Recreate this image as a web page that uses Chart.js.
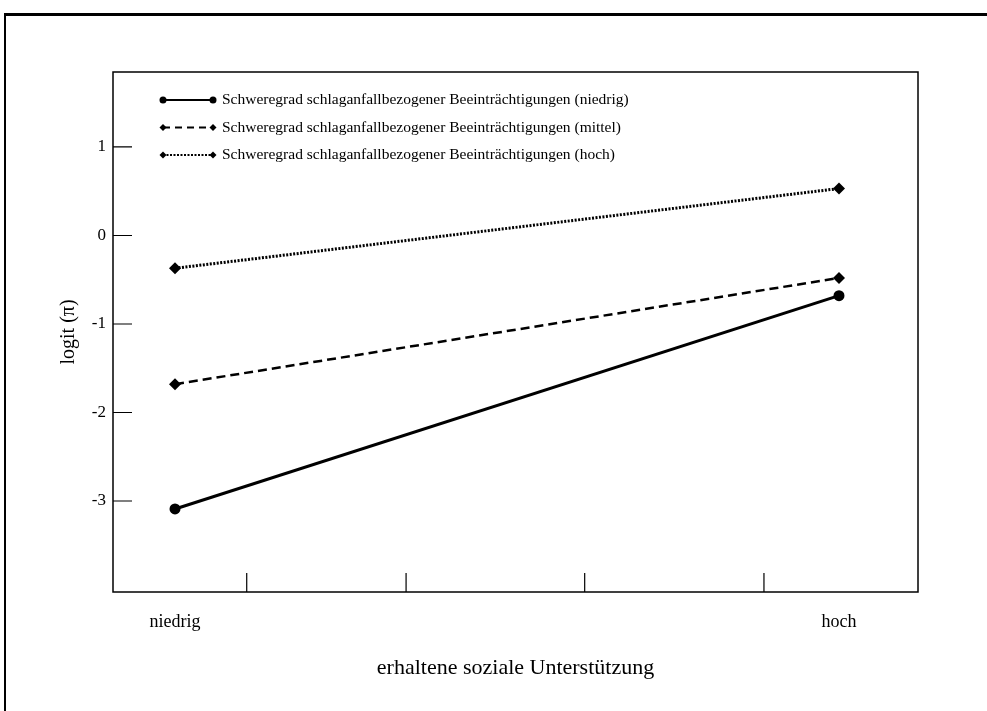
<!DOCTYPE html>
<html>
<head>
<meta charset="utf-8">
<script src="https://cdn.jsdelivr.net/npm/chart.js"></script>
<style>
  html, body { margin: 0; padding: 0; background: #fff; overflow: hidden; }
  #wrap { position: relative; width: 987px; height: 711px; }
  #frame { position: absolute; left: 4px; top: 13px; width: 1100px; height: 800px;
           border-top: 3px solid #000; border-left: 2px solid #000; }
  canvas { position: absolute; left: 0; top: 0; }
</style>
</head>
<body>
<div id="wrap">
  <div id="frame"></div>
  <canvas id="logitChart" width="987" height="711"></canvas>
</div>
<script>
// Daten
const categories = ['niedrig', 'hoch'];
const xPositions = [0, 1];
const seriesLabels = [
    'Schweregrad schlaganfallbezogener Beeinträchtigungen (niedrig)',
    'Schweregrad schlaganfallbezogener Beeinträchtigungen (mittel)',
    'Schweregrad schlaganfallbezogener Beeinträchtigungen (hoch)'
];
const niedrigValues = [-3.09, -0.68];
const mittelValues = [-1.68, -0.48];
const hochValues = [-0.37, 0.53];
const yTicks = [1, 0, -1, -2, -3];
const xTickMarks = [0.108, 0.348, 0.617, 0.887]; // Markierungen ohne Beschriftung

const FONT = '"Liberation Serif", "Times New Roman", serif';
Chart.defaults.color = '#000';
Chart.defaults.font.family = FONT;

function toPoints(values) {
    return values.map((v, i) => ({ x: xPositions[i], y: v }));
}

function drawMarker(ctx, style, x, y, r) {
    ctx.beginPath();
    if (style === 'circle') {
        ctx.arc(x, y, r, 0, Math.PI * 2);
    } else {
        ctx.moveTo(x, y - r);
        ctx.lineTo(x + r, y);
        ctx.lineTo(x, y + r);
        ctx.lineTo(x - r, y);
        ctx.closePath();
    }
    ctx.fill();
}

const legendDash = [[], [7, 5], [2, 1.5]];

// Rahmen, Innen-Ticks und Legende
const decorPlugin = {
    id: 'decor',
    afterDraw(chart) {
        const { ctx, chartArea: a, scales: { x, y } } = chart;
        ctx.save();
        ctx.strokeStyle = '#000';
        ctx.fillStyle = '#000';
        ctx.lineWidth = 1.5;
        ctx.strokeRect(a.left, a.top, a.right - a.left, a.bottom - a.top);

        ctx.lineWidth = 1.2;
        ctx.beginPath();
        yTicks.forEach(v => {
            const py = y.getPixelForValue(v);
            ctx.moveTo(a.left, py);
            ctx.lineTo(a.left + 19, py);
        });
        xTickMarks.forEach(v => {
            const px = x.getPixelForValue(v);
            ctx.moveTo(px, a.bottom);
            ctx.lineTo(px, a.bottom - 19);
        });
        ctx.stroke();

        ctx.font = '15.5px ' + FONT;
        ctx.textBaseline = 'middle';
        chart.data.datasets.forEach((ds, i) => {
            const yy = a.top + 28 + i * 27.5;
            const x0 = a.left + 50, x1 = a.left + 100;
            ctx.lineWidth = 2.2;
            ctx.setLineDash(legendDash[i]);
            ctx.beginPath();
            ctx.moveTo(x0, yy);
            ctx.lineTo(x1, yy);
            ctx.stroke();
            ctx.setLineDash([]);
            drawMarker(ctx, ds.pointStyle, x0, yy, 3.5);
            drawMarker(ctx, ds.pointStyle, x1, yy, 3.5);
            ctx.fillText(ds.label, x1 + 9, yy);
        });
        ctx.restore();
    }
};

const data = {
    datasets: [{
        label: seriesLabels[0],
        data: toPoints(niedrigValues),
        borderColor: '#000',
        backgroundColor: '#000',
        borderWidth: 3,
        pointStyle: 'circle',
        pointRadius: 5.5,
        pointBorderWidth: 0
    }, {
        label: seriesLabels[1],
        data: toPoints(mittelValues),
        borderColor: '#000',
        backgroundColor: '#000',
        borderWidth: 2.5,
        borderDash: [9, 5],
        pointStyle: 'rectRot',
        pointRadius: 6,
        pointBorderWidth: 0
    }, {
        label: seriesLabels[2],
        data: toPoints(hochValues),
        borderColor: '#000',
        backgroundColor: '#000',
        borderWidth: 3,
        borderDash: [2, 1.5],
        pointStyle: 'rectRot',
        pointRadius: 6,
        pointBorderWidth: 0
    }]
};

const config = {
    type: 'line',
    data: data,
    options: {
        responsive: false,
        animation: false,
        layout: { padding: { left: 0, top: 72, right: 69, bottom: 0 } },
        plugins: {
            legend: { display: false },
            tooltip: { enabled: false }
        },
        scales: {
            x: {
                type: 'linear',
                min: -0.0934,
                max: 1.119,
                afterBuildTicks: s => { s.ticks = xPositions.map(v => ({ value: v })); },
                afterFit: s => { s.height = 119; },
                grid: { display: false, drawTicks: false },
                border: { display: false },
                ticks: {
                    padding: 19,
                    font: { size: 18 },
                    callback: v => categories[xPositions.indexOf(v)]
                },
                title: {
                    display: true,
                    text: 'erhaltene soziale Unterstützung',
                    font: { size: 22 },
                    padding: { top: 0, bottom: 30 }
                }
            },
            y: {
                type: 'linear',
                min: -4.028,
                max: 1.847,
                afterBuildTicks: s => { s.ticks = yTicks.map(v => ({ value: v })); },
                afterFit: s => { s.width = 113; },
                grid: { display: false, drawTicks: false },
                border: { display: false },
                ticks: {
                    padding: 7,
                    font: { size: 17 },
                    callback: v => String(v)
                },
                title: {
                    display: true,
                    text: 'logit (π)',
                    font: { size: 20 },
                    padding: { top: 57, bottom: 0 }
                }
            }
        }
    },
    plugins: [decorPlugin]
};

const logitChart = new Chart(document.getElementById('logitChart'), config);
</script>
</body>
</html>
